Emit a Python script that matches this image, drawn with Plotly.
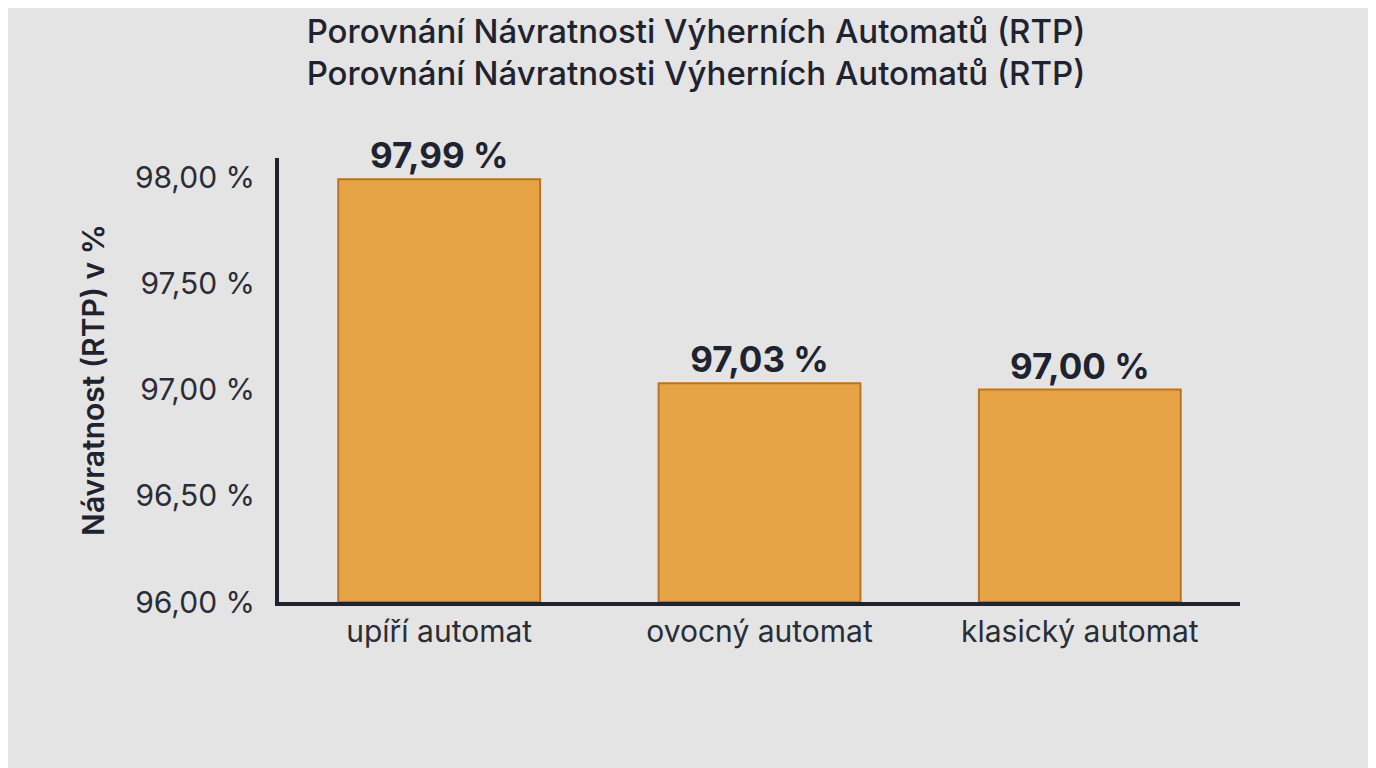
import plotly.graph_objects as go

## Data
categories = ["upíří automat", "ovocný automat", "klasický automat"]
rtp_values = [97.99, 97.03, 97.00]
bar_labels = ["97,99 %", "97,03 %", "97,00 %"]
tick_values = [96.0, 96.5, 97.0, 97.5, 98.0]
tick_labels = ["96,00 %", "96,50 %", "97,00 %", "97,50 %", "98,00 %"]

title_line = "Porovnání Návratnosti Výherních Automatů (RTP)"

fig = go.Figure(
    go.Bar(
        x=categories,
        y=[v - 96.0 for v in rtp_values],
        base=96.0,
        width=0.63,
        marker=dict(color="#e6a446", line=dict(color="#b87425", width=2)),
        text=bar_labels,
        textposition="outside",
        textfont=dict(size=35, color="#1f2330", family="Inter", weight="bold"),
        cliponaxis=False,
    )
)

fig.update_layout(
    width=1376,
    height=768,
    paper_bgcolor="#e4e4e4",
    plot_bgcolor="rgba(0,0,0,0)",
    font=dict(family="Inter", color="#2a2d36"),
    title=dict(
        text=title_line + "<br>" + title_line,
        x=0.5,
        xanchor="center",
        y=0.955,
        yanchor="top",
        font=dict(size=33, color="#1f2330", weight=500),
    ),
    margin=dict(l=271, r=144, t=150, b=174),
    showlegend=False,
)

fig.update_xaxes(
    showline=True,
    linecolor="#1f2330",
    linewidth=4,
    tickfont=dict(size=30, color="#2a2d36"),
    ticks="",
)
fig.update_yaxes(
    range=[96.0, 98.09],
    tickvals=tick_values,
    ticktext=tick_labels,
    showgrid=False,
    zeroline=False,
    showline=True,
    linecolor="#1f2330",
    linewidth=4,
    ticks="",
    ticklabelstandoff=14,
    tickfont=dict(size=30, color="#2a2d36"),
    title=dict(text="Návratnost (RTP) v %", font=dict(size=30, color="#1f2330", weight=600), standoff=22),
)

fig.write_html("out.html")
